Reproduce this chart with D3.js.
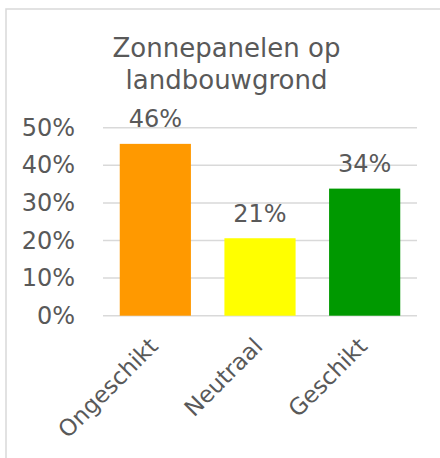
<!DOCTYPE html>
<html>
<head>
<meta charset="utf-8">
<script src="https://cdn.jsdelivr.net/npm/d3@7"></script>
<style>
  body { margin: 0; background: #fff; }
  text { font-family: "DejaVu Sans", Verdana, sans-serif; fill: #595959; }
</style>
</head>
<body>
<svg id="chart"></svg>
<script>
// data
const categories = ["Ongeschikt", "Neutraal", "Geschikt"];
const shares = [0.457, 0.206, 0.338];
const barColors = ["#ff9900", "#ffff00", "#009900"];
const yTicks = [0, 0.1, 0.2, 0.3, 0.4, 0.5];
const titleLines = ["Zonnepanelen op", "landbouwgrond"];

const width = 440, height = 458;
const margin = { top: 127.7, right: 23, bottom: 142.3, left: 103 };

const svg = d3.select("#chart")
    .attr("width", width)
    .attr("height", height);

// chart frame (runs off the right / bottom edge)
svg.append("rect")
    .attr("x", 6).attr("y", 9)
    .attr("width", 460).attr("height", 470)
    .attr("fill", "none")
    .attr("stroke", "#d9d9d9")
    .attr("stroke-width", 1.5);

const x = d3.scaleBand()
    .domain(categories)
    .range([margin.left, width - margin.right])
    .paddingInner(0.32)
    .paddingOuter(0.16);

const y = d3.scaleLinear()
    .domain([0, 0.5])
    .range([height - margin.bottom, margin.top]);

// gridlines
svg.append("g")
    .selectAll("line")
    .data(yTicks)
    .join("line")
    .attr("x1", margin.left)
    .attr("x2", width - margin.right)
    .attr("y1", d => y(d))
    .attr("y2", d => y(d))
    .attr("stroke", "#d9d9d9")
    .attr("stroke-width", 1.5);

// y axis labels
const yAxis = g => g
    .attr("transform", `translate(${margin.left - 25},0)`)
    .call(d3.axisLeft(y).tickValues(yTicks).tickFormat(d3.format(".0%")).tickSize(0))
    .call(g => g.select(".domain").remove())
    .call(g => g.selectAll("text")
        .attr("font-size", 24)
        .attr("fill", "#595959")
        .attr("font-family", "DejaVu Sans, Verdana, sans-serif"));
svg.append("g").call(yAxis);

// bars
svg.append("g")
    .selectAll("rect")
    .data(shares)
    .join("rect")
    .attr("x", (d, i) => x(categories[i]))
    .attr("y", d => y(d))
    .attr("width", x.bandwidth())
    .attr("height", d => y(0) - y(d))
    .attr("fill", (d, i) => barColors[i]);

// data labels
svg.append("g")
    .selectAll("text")
    .data(shares)
    .join("text")
    .attr("x", (d, i) => x(categories[i]) + x.bandwidth() / 2)
    .attr("y", d => y(d) - 16.5)
    .attr("text-anchor", "middle")
    .attr("font-size", 24)
    .text(d => d3.format(".0%")(d));

// category labels, rotated
svg.append("g")
    .selectAll("text")
    .data(categories)
    .join("text")
    .attr("text-anchor", "end")
    .attr("font-size", 23)
    .attr("transform", d => `translate(${x(d) + x.bandwidth() / 2 + 4},${y(0) + 32}) rotate(-45)`)
    .text(d => d);

// title
svg.append("g")
    .selectAll("text")
    .data(titleLines)
    .join("text")
    .attr("x", 226.5)
    .attr("y", (d, i) => 56.7 + i * 31.8)
    .attr("text-anchor", "middle")
    .attr("font-size", 26)
    .text(d => d);
</script>
</body>
</html>
